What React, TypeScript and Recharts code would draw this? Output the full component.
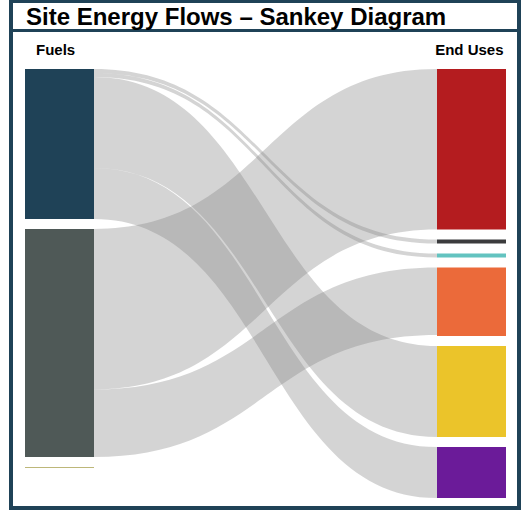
import React from 'react'
import { Sankey } from 'recharts'

const FRAME = '#1f4257'

// left column, then right column
const fuels = ['Electricity', 'Natural Gas', 'Propane']
const fuelColors = ['#1f4257', '#4f5957', '#bdb779']

const endUses = ['Space Heating', 'Cooking', 'Refrigeration', 'Water Heating', 'Lighting & Plugs', 'Cooling']
const endUseColors = ['#b41c1f', '#3b3b3d', '#63c3c0', '#eb6a3a', '#ebc42a', '#6b1b99']

// flows: [fuel index, end use index, energy]
const electricityFlows: [number, number, number][] = [
  [0, 1, 4],
  [0, 2, 4],
  [0, 4, 91],
  [0, 5, 51],
]
const gasFlows: [number, number, number][] = [
  [1, 0, 160.5],
  [1, 3, 67.5],
]
const propaneFlows: [number, number, number][] = [[2, 3, 1]]

const nodeColors = [...fuelColors, ...endUseColors]

const sankeyData = {
  nodes: [...fuels, ...endUses].map((name) => ({ name })),
  links: [...electricityFlows, ...gasFlows, ...propaneFlows].map(([s, t, value]) => ({
    source: s,
    target: fuels.length + t,
    value,
  })),
}

function FlowNode(props: any) {
  const { x, y, width, height, index } = props
  return <rect x={x} y={y} width={width} height={height} fill={nodeColors[index]} />
}

// filled ribbon instead of a thick stroke, so bands keep their height
function FlowLink(props: any) {
  const { sourceX, targetX, sourceY, targetY, sourceControlX, targetControlX, linkWidth } = props
  if (linkWidth < 2) return null // hairline flows are not drawn
  const h = linkWidth / 2
  const d =
    `M${sourceX},${sourceY - h}` +
    `C${sourceControlX},${sourceY - h} ${targetControlX},${targetY - h} ${targetX},${targetY - h}` +
    `L${targetX},${targetY + h}` +
    `C${targetControlX},${targetY + h} ${sourceControlX},${sourceY + h} ${sourceX},${sourceY + h}Z`
  return <path d={d} fill="#848484" fillOpacity={0.35} stroke="none" />
}

export default function App() {
  return (
    <div
      style={{
        position: 'absolute',
        left: 0,
        top: 0,
        width: 522,
        height: 510,
        background: '#fff',
        fontFamily: '"Liberation Sans", Arial, sans-serif',
        color: '#000',
      }}
    >
      <div style={{ position: 'absolute', left: 0, top: 0 }}>
        <Sankey
          width={522}
          height={510}
          data={sankeyData}
          nodeWidth={69}
          nodePadding={10}
          iterations={0}
          margin={{ top: 69, right: 16, bottom: 12, left: 25 }}
          node={FlowNode}
          link={FlowLink}
        />
      </div>

      {/* frame + title strip */}
      <div
        style={{
          position: 'absolute',
          left: 9,
          top: -1,
          width: 512,
          height: 511,
          border: `4px solid ${FRAME}`,
          boxSizing: 'border-box',
        }}
      />
      <div
        style={{
          position: 'absolute',
          left: 9,
          top: -1,
          width: 512,
          height: 33,
          borderBottom: `3px solid ${FRAME}`,
          boxSizing: 'border-box',
        }}
      />
      <div style={{ position: 'absolute', left: 26, top: 3.3, fontSize: 24, fontWeight: 700, whiteSpace: 'nowrap' }}>
        Site Energy Flows – Sankey Diagram
      </div>

      <div style={{ position: 'absolute', left: 36, top: 40.5, fontSize: 15, fontWeight: 700 }}>Fuels</div>
      <div style={{ position: 'absolute', right: 18.5, top: 40.5, fontSize: 15, fontWeight: 700 }}>End Uses</div>
    </div>
  )
}
